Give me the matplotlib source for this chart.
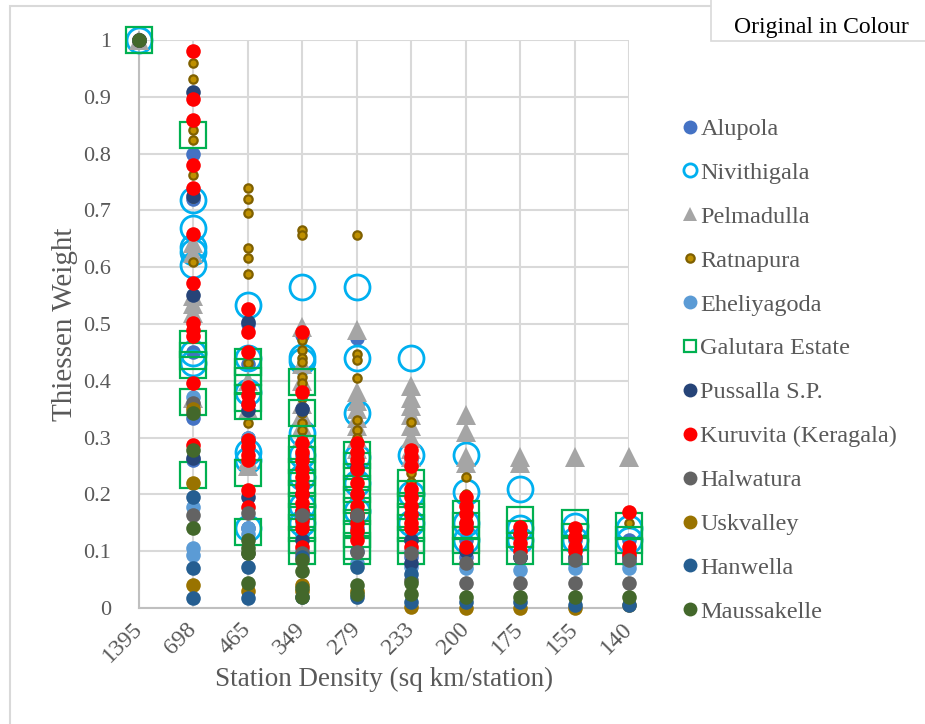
import matplotlib
matplotlib.use("Agg")
import matplotlib.pyplot as plt
from matplotlib.lines import Line2D
from matplotlib.patches import Rectangle
from matplotlib.transforms import ScaledTranslation

# categories (station density, sq km/station)
densities = ["1395", "698", "465", "349", "279", "233", "200", "175", "155", "140"]
y_ticks = [0, 0.1, 0.2, 0.3, 0.4, 0.5, 0.6, 0.7, 0.8, 0.9, 1]
y_tick_labels = ["0", "0.1", "0.2", "0.3", "0.4", "0.5", "0.6", "0.7", "0.8", "0.9", "1"]

# Thiessen weights of each station, one list per density level
alupola = [[1.0], [0.80, 0.72, 0.45, 0.335, 0.26], [0.50, 0.43, 0.36, 0.30, 0.28, 0.14],
           [0.48, 0.35, 0.27, 0.22, 0.17, 0.13], [0.475, 0.36, 0.24, 0.19, 0.14, 0.10],
           [0.26, 0.20, 0.16, 0.12, 0.09], [0.15, 0.12, 0.09], [0.13, 0.09], [0.12, 0.08], [0.12, 0.08]]
nivithigala = [[1.0], [0.718, 0.669, 0.636, 0.627, 0.604, 0.449, 0.431], [0.533, 0.44, 0.38, 0.275, 0.26, 0.14],
               [0.565, 0.442, 0.435, 0.308, 0.27, 0.23, 0.18, 0.15], [0.565, 0.44, 0.343, 0.266, 0.22, 0.17],
               [0.44, 0.27, 0.20, 0.15], [0.27, 0.205, 0.15, 0.12], [0.21, 0.14, 0.12], [0.145, 0.12], [0.14, 0.12]]
pelmadulla = [[1.0], [0.642, 0.625, 0.55, 0.535, 0.52, 0.37], [0.40, 0.35, 0.26, 0.25],
              [0.495, 0.43, 0.40, 0.36, 0.34, 0.32, 0.30], [0.49, 0.38, 0.365, 0.35, 0.335, 0.32, 0.30, 0.28],
              [0.39, 0.37, 0.355, 0.34, 0.32, 0.30, 0.28, 0.265], [0.34, 0.31, 0.265, 0.255],
              [0.265, 0.255], [0.265], [0.265]]
ratnapura = [[1.0], [0.96, 0.931, 0.842, 0.824, 0.762, 0.722, 0.61, 0.35],
             [0.739, 0.72, 0.695, 0.634, 0.616, 0.588, 0.431, 0.325],
             [0.665, 0.656, 0.472, 0.454, 0.44, 0.433, 0.407, 0.396, 0.37, 0.343, 0.325, 0.313, 0.30],
             [0.657, 0.447, 0.436, 0.405, 0.331, 0.314, 0.30, 0.285], [0.327, 0.237, 0.222],
             [0.23, 0.20], [0.13], [0.12], [0.15]]
eheliyagoda = [[1.0], [0.372, 0.178, 0.106, 0.093], [0.30, 0.13, 0.14], [0.25, 0.15, 0.10],
               [0.20, 0.13, 0.08], [0.073, 0.10], [0.07], [0.067], [0.07], [0.07]]
galutara = [[1.0], [0.833, 0.465, 0.443, 0.428, 0.363, 0.234], [0.433, 0.415, 0.40, 0.37, 0.355, 0.237, 0.134],
            [0.398, 0.343, 0.28, 0.26, 0.24, 0.22, 0.20, 0.18, 0.16, 0.14, 0.12, 0.10],
            [0.27, 0.25, 0.23, 0.21, 0.19, 0.17, 0.15, 0.13, 0.11, 0.10],
            [0.22, 0.20, 0.18, 0.16, 0.14, 0.12, 0.10], [0.165, 0.145, 0.12, 0.10],
            [0.155, 0.13, 0.10], [0.15, 0.125, 0.10], [0.145, 0.12, 0.10]]
pussalla = [[1.0], [0.909, 0.725, 0.551, 0.264], [0.504, 0.349, 0.195], [0.35, 0.20, 0.12],
            [0.25, 0.16], [0.12, 0.08], [0.10], [0.09], [0.09], [0.09]]
kuruvita = [[1.0], [0.981, 0.896, 0.859, 0.780, 0.739, 0.659, 0.572, 0.502, 0.49, 0.478, 0.396, 0.287],
            [0.526, 0.486, 0.451, 0.389, 0.375, 0.36, 0.296, 0.285, 0.27, 0.26, 0.208, 0.178],
            [0.486, 0.38, 0.29, 0.275, 0.26, 0.245, 0.23, 0.215, 0.20, 0.185, 0.17, 0.155, 0.14, 0.107],
            [0.29, 0.275, 0.26, 0.245, 0.22, 0.20, 0.18, 0.165, 0.15, 0.135, 0.12],
            [0.278, 0.265, 0.25, 0.21, 0.195, 0.18, 0.165, 0.15, 0.14, 0.108],
            [0.195, 0.18, 0.165, 0.15, 0.14, 0.108], [0.143, 0.13, 0.115, 0.10],
            [0.14, 0.125, 0.108, 0.10], [0.169, 0.108, 0.095]]
halwatura = [[1.0], [0.361, 0.164], [0.167, 0.097], [0.164, 0.097], [0.164, 0.099],
             [0.097, 0.05], [0.079, 0.044], [0.09, 0.044], [0.085, 0.044], [0.085, 0.044]]
uskvalley = [[1.0], [0.35, 0.22, 0.04], [0.03], [0.04, 0.03], [0.03], [0.002], [0.0], [0.0], [0.0], [0.005]]
hanwella = [[1.0], [0.196, 0.07, 0.018], [0.072, 0.018], [0.09, 0.02], [0.072, 0.02],
            [0.06, 0.01], [0.01], [0.01], [0.005], [0.005]]
maussakelle = [[1.0], [0.343, 0.278, 0.141], [0.12, 0.105, 0.097, 0.044], [0.085, 0.065, 0.035, 0.02],
               [0.04, 0.025], [0.044, 0.025], [0.02], [0.02], [0.02], [0.02]]

station_names = ["Alupola", "Nivithigala", "Pelmadulla", "Ratnapura", "Eheliyagoda", "Galutara Estate",
                 "Pussalla S.P.", "Kuruvita (Keragala)", "Halwatura", "Uskvalley", "Hanwella", "Maussakelle"]
station_data = [alupola, nivithigala, pelmadulla, ratnapura, eheliyagoda, galutara,
                pussalla, kuruvita, halwatura, uskvalley, hanwella, maussakelle]

# marker style per station: (marker, size in plot, size in legend, face, edge, edge width)
styles = [
    ("o", 10.5, 10, "#4472C4", "#4472C4", 0),
    ("o", 18, 9.5, "none", "#00B0F0", 2.0),
    ("^", 14, 10, "#A5A5A5", "#A5A5A5", 0),
    ("o", 6, 6, "#BF9000", "#7F6000", 1.6),
    ("o", 10.5, 10, "#5B9BD5", "#5B9BD5", 0),
    ("s", 18.5, 8.5, "none", "#00B050", 1.6),
    ("o", 10.5, 10, "#264478", "#264478", 0),
    ("o", 10.5, 10, "#FF0000", "#FF0000", 0),
    ("o", 10.5, 10, "#636363", "#636363", 0),
    ("o", 10.5, 10, "#997300", "#997300", 0),
    ("o", 10.5, 10, "#255E91", "#255E91", 0),
    ("o", 10.5, 10, "#43682B", "#43682B", 0),
]

plt.rcParams["font.family"] = ["Liberation Serif", "DejaVu Serif"]
text_grey = "#595959"

fig = plt.figure(figsize=(9.25, 7.24), dpi=100)

# outer chart frame and the "Original in Colour" box
fig.patches.append(Rectangle((10 / 925, -0.05), 1.2, (724 - 6) / 724 + 0.05, transform=fig.transFigure,
                             fill=False, edgecolor="#D9D9D9", linewidth=1.5, zorder=0))
fig.patches.append(Rectangle((711 / 925, (724 - 41) / 724), 0.4, 0.2, transform=fig.transFigure,
                             facecolor="white", edgecolor="#D9D9D9", linewidth=1.2, zorder=1))
fig.text(821 / 925, (724 - 27) / 724, "Original in Colour", ha="center", va="center",
         fontsize=17, color="black")

ax = fig.add_axes([139 / 925, (724 - 608) / 724, (629 - 139) / 925, (608 - 40) / 724])

for name, data, st in zip(station_names, station_data, styles):
    marker, ms, _, fc, ec, ew = st
    xs, ys = [], []
    for i, vals in enumerate(data):
        xs += [i + 1] * len(vals)
        ys += vals
    ax.plot(xs, ys, linestyle="none", marker=marker, markersize=ms, markerfacecolor=fc,
            markeredgecolor=ec, markeredgewidth=ew, clip_on=False, zorder=3, label=name)

ax.set_xlim(1, 10)
ax.set_ylim(0, 1)
ax.set_xticks(range(1, len(densities) + 1))
ax.set_xticklabels(densities, rotation=45, ha="right", va="center", rotation_mode="anchor", fontsize=17)
shift = ScaledTranslation(5 / 100, 0, fig.dpi_scale_trans)
for lbl in ax.get_xticklabels():
    lbl.set_transform(lbl.get_transform() + shift)
ax.set_yticks(y_ticks)
ax.set_yticklabels(y_tick_labels, fontsize=16)
ax.tick_params(axis="both", length=0, colors=text_grey)
ax.tick_params(axis="x", pad=13)
ax.tick_params(axis="y", pad=20)
ax.grid(True, color="#D9D9D9", linewidth=1.5, zorder=0)
ax.set_axisbelow(True)
for side in ["top", "right"]:
    ax.spines[side].set_visible(False)
for side in ["left", "bottom"]:
    ax.spines[side].set_color("#BFBFBF")
    ax.spines[side].set_linewidth(1.5)

ax.set_ylabel("Thiessen Weight", fontsize=21, color=text_grey, labelpad=4)
ax.set_xlabel("Station Density (sq km/station)", fontsize=19.5, color=text_grey, labelpad=0)

handles = [Line2D([], [], linestyle="none", marker=st[0], markersize=st[2], markerfacecolor=st[3],
                  markeredgecolor=st[4], markeredgewidth=st[5]) for st in styles]
fig.legend(handles, station_names, loc="upper left", bbox_to_anchor=(683 / 925, (724 - 118) / 724),
           frameon=False, fontsize=17.5, labelcolor=text_grey, handlelength=0.6, handletextpad=0.12,
           labelspacing=0.9, borderpad=0, borderaxespad=0)

fig.savefig("out.png", dpi=100)
